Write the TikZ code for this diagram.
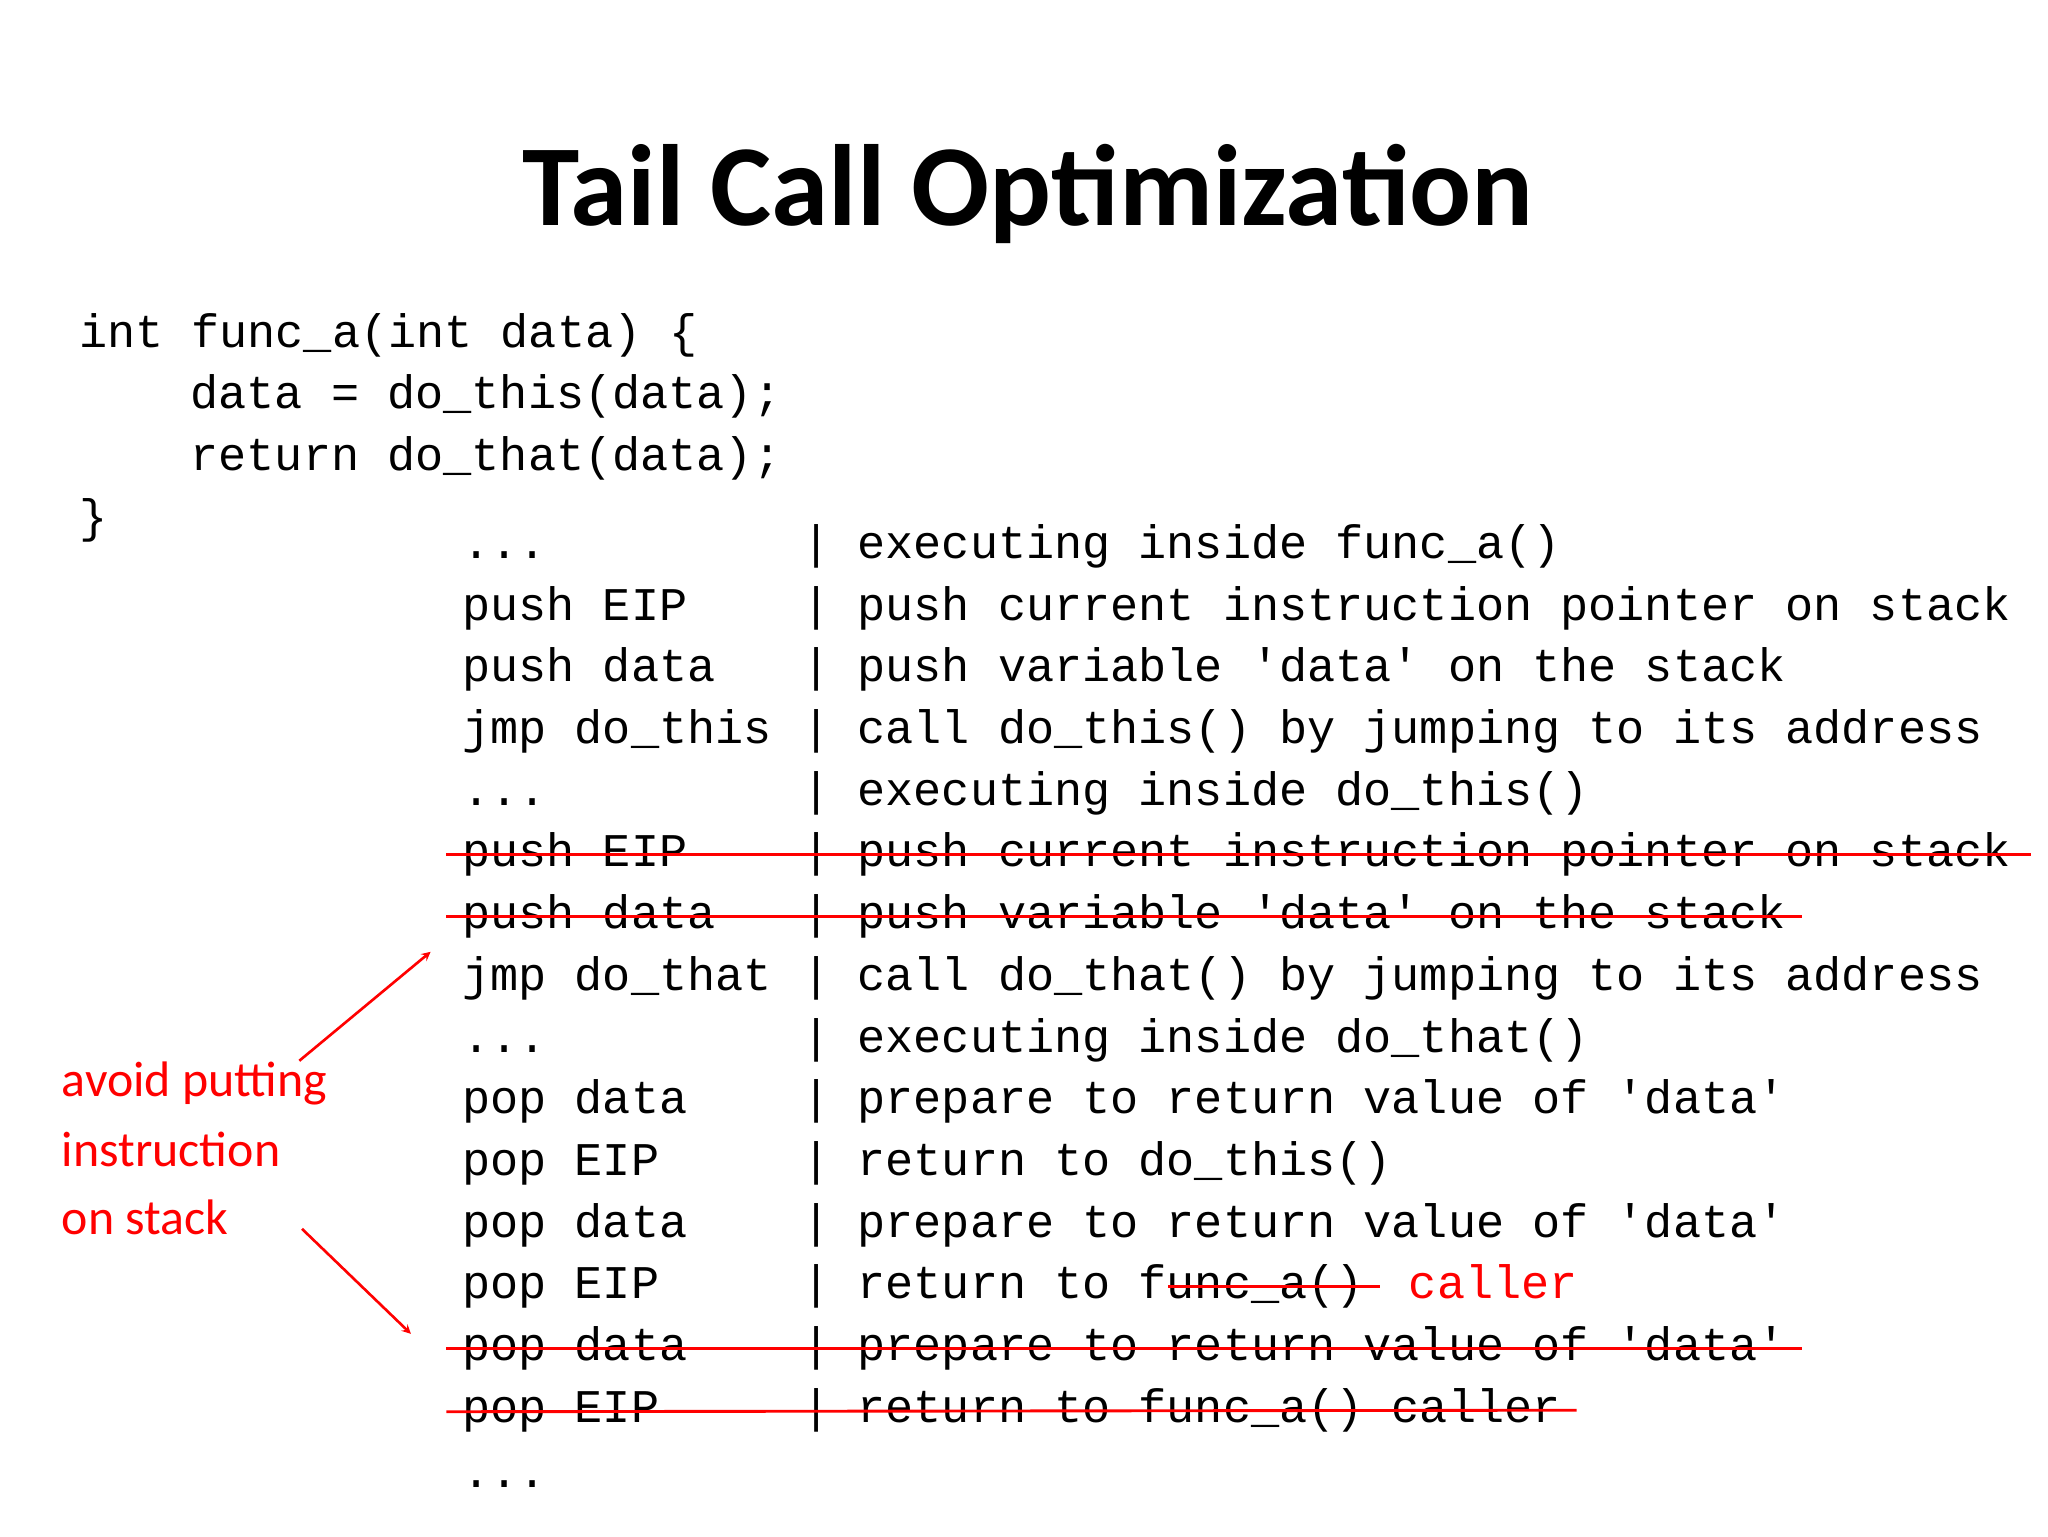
\documentclass[tikz,border=0pt]{standalone}
\usepackage{fontspec}
\setmainfont{Carlito}
\setmonofont{Liberation Mono}
\newcommand\mydts{.{}.{}.}
\begin{document}
\begin{tikzpicture}[x=1pt,y=-1pt,
  code/.style={anchor=mid west,inner sep=0pt,font=\ttfamily\fontsize{35.7}{40}\selectfont},
  red/.style={text=red},
  strike/.style={draw=red,line width=2.2pt},
  note/.style={anchor=mid west,inner sep=0pt,text=red,font=\fontsize{38}{40}\selectfont},
  arr/.style={draw=red,line width=2pt,-stealth}]
\useasboundingbox (0,0) rectangle (1560,1170);
\node[inner sep=0pt,font=\bfseries\fontsize{88}{90}\selectfont] (title) at (783,148) {Tail Call Optimization};
\node[code] (c1) at (60,262) {int func\_a(int data) \{};
\node[code] (c2) at (145,309) {data = do\_this(data);};
\node[code] (c3) at (145,356) {return do\_that(data);};
\node[code] (c4) at (60,403) {\}};
\foreach \i/\l/\r in {0/\mydts/executing inside func\_a(),
 1/push EIP/push current instruction pointer on stack,
 2/push data/push variable 'data' on the stack,
 3/jmp do\_this/call do\_this() by jumping to its address,
 4/\mydts/executing inside do\_this(),
 5/push EIP/push current instruction pointer on stack,
 6/push data/push variable 'data' on the stack,
 7/jmp do\_that/call do\_that() by jumping to its address,
 8/\mydts/executing inside do\_that(),
 9/pop data/prepare to return value of 'data',
 10/pop EIP/return to do\_this(),
 11/pop data/prepare to return value of 'data',
 13/pop data/prepare to return value of 'data',
 14/pop EIP/return to func\_a() caller}{
  \node[code] (l\i) at (352,423+47*\i) {\l};
  \node[code] (b\i) at (611,423+47*\i) {|};
  \node[code] (r\i) at (653,423+47*\i) {\r};
}
\node[code] (l12) at (352,987) {pop EIP};
\node[code] (b12) at (611,987) {|};
\node[code] (r12) at (653,987) {return to func\_a()};
\node[code,red] (cl) at (1073,987) {caller};
\node[code] (l15) at (352,1131) {\mydts};
\draw[strike] ([xshift=-12pt]l5.west) -- ([xshift=15pt]r5.east);
\draw[strike] ([xshift=-12pt]l6.west) -- ([xshift=12pt]r6.east);
\draw[strike] ([xshift=-12pt]l13.west) -- ([xshift=12pt]r13.east);
\draw[strike] ([xshift=-12pt]l14.west) -- ([xshift=12pt]r14.east);
\draw[strike] ([xshift=-149pt]r12.east) -- ([xshift=12pt]r12.east);
\node[note] (n1) at (47,833) {avoid putting};
\node[note] (n2) at (47,886) {instruction};
\node[note] (n3) at (47,938) {on stack};
\coordinate (a1) at (328,725);
\coordinate (a2) at (313,1016);
\draw[arr] (228,808) -- (a1);
\draw[arr] (230,936) -- (a2);
\end{tikzpicture}
\end{document}
